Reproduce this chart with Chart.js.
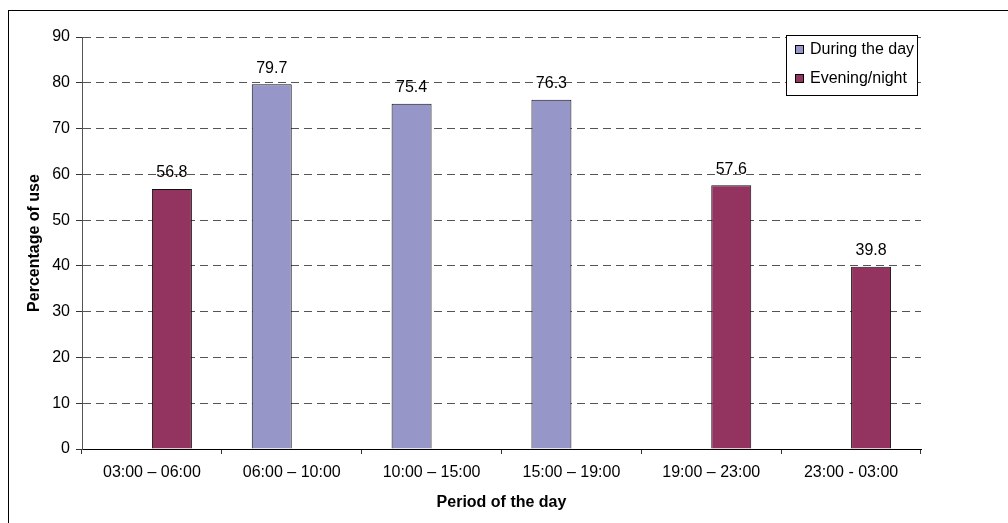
<!DOCTYPE html>
<html>
<head>
<meta charset="utf-8">
<script src="https://cdn.jsdelivr.net/npm/chart.js@4"></script>
<style>
html, body { margin: 0; padding: 0; background: #fff; overflow: hidden; }
#wrap { position: relative; width: 1008px; height: 523px; }
#frame { position: absolute; left: 8px; top: 10px; width: 1100px; height: 600px; border: 1px solid #000; }
canvas { position: absolute; left: 0; top: 0; }
</style>
</head>
<body>
<div id="wrap">
  <div id="frame"></div>
  <canvas id="chart" width="1008" height="523"></canvas>
</div>
<script>
// Chart data
const periods = ['03:00 \u2013 06:00', '06:00 \u2013 10:00', '10:00 \u2013 15:00', '15:00 \u2013 19:00', '19:00 \u2013 23:00', '23:00 - 03:00'];
const duringDay = [null, 79.7, 75.4, 76.3, null, null];
const eveningNight = [56.8, null, null, null, 57.6, 39.8];
const seriesNames = ['During the day', 'Evening/night'];
const yMin = 0;
const yMax = 90;
const yStep = 10;

const FONT = "'Liberation Sans', Arial, sans-serif";

// Value labels above the bars
const valueLabels = {
    id: 'valueLabels',
    afterDatasetsDraw(chart) {
        const ctx = chart.ctx;
        ctx.save();
        ctx.font = '16px ' + FONT;
        ctx.fillStyle = '#000';
        ctx.textAlign = 'center';
        ctx.textBaseline = 'middle';
        chart.data.datasets.forEach((ds, i) => {
            const meta = chart.getDatasetMeta(i);
            meta.data.forEach((bar, j) => {
                const v = ds.data[j];
                if (v === null || v === undefined) return;
                ctx.fillText(v.toFixed(1), bar.x, bar.y - 16);
            });
        });
        ctx.restore();
    }
};

// Boxed legend inside the plot, top right
const boxLegend = {
    id: 'boxLegend',
    afterDraw(chart) {
        const ctx = chart.ctx;
        const x = 786.5, y = 35.5, w = 131, h = 60;
        ctx.save();
        ctx.fillStyle = '#fff';
        ctx.fillRect(x, y, w, h);
        ctx.strokeStyle = '#000';
        ctx.lineWidth = 1;
        ctx.strokeRect(x, y, w, h);
        ctx.font = '16px ' + FONT;
        ctx.textBaseline = 'middle';
        ctx.textAlign = 'left';
        chart.data.datasets.forEach((ds, i) => {
            const cy = 50 + i * 29;
            ctx.fillStyle = ds.backgroundColor;
            ctx.fillRect(795.5, cy - 4.5, 8, 8);
            ctx.strokeStyle = '#000';
            ctx.strokeRect(795.5, cy - 4.5, 8, 8);
            ctx.fillStyle = '#000';
            ctx.fillText(ds.label, 810, cy);
        });
        ctx.restore();
    }
};

const ctx = document.getElementById('chart').getContext('2d');
new Chart(ctx, {
    type: 'bar',
    data: {
        labels: periods,
        datasets: [{
            label: seriesNames[0],
            data: duringDay,
            backgroundColor: '#9696c8',
            borderColor: '#111',
            borderWidth: 1
        }, {
            label: seriesNames[1],
            data: eveningNight,
            backgroundColor: '#933360',
            borderColor: '#111',
            borderWidth: 1
        }]
    },
    options: {
        responsive: false,
        animation: false,
        layout: { padding: { left: 0, top: 37, right: 87, bottom: 0 } },
        datasets: {
            bar: { categoryPercentage: 0.572, barPercentage: 1.0 }
        },
        plugins: {
            legend: { display: false },
            tooltip: { enabled: false }
        },
        scales: {
            x: {
                grid: {
                    offset: true,
                    drawOnChartArea: false,
                    drawTicks: true,
                    tickLength: 5,
                    tickColor: '#333'
                },
                border: { color: '#000', width: 1 },
                ticks: {
                    color: '#000',
                    font: { family: FONT, size: 16 },
                    padding: 9,
                    maxRotation: 0
                },
                title: {
                    display: true,
                    text: 'Period of the day',
                    color: '#000',
                    font: { family: FONT, size: 16, weight: 'bold' },
                    padding: { top: 0, bottom: 11 }
                },
                afterFit(scale) { scale.height = 74; }
            },
            y: {
                min: yMin,
                max: yMax,
                grid: {
                    color: c => (c.tick && c.tick.value === 0) ? 'rgba(0,0,0,0)' : '#555',
                    drawTicks: true,
                    tickLength: 6,
                    tickColor: '#333',
                    tickBorderDash: []
                },
                border: { color: '#555', width: 1, dash: [8, 5] },
                ticks: {
                    stepSize: yStep,
                    color: '#000',
                    font: { family: FONT, size: 16 },
                    padding: 6
                },
                title: {
                    display: true,
                    text: 'Percentage of use',
                    color: '#000',
                    font: { family: FONT, size: 16, weight: 'bold' },
                    padding: { top: 25, bottom: 0 }
                },
                afterFit(scale) { scale.width = 82; }
            }
        }
    },
    plugins: [valueLabels, boxLegend]
});
</script>
</body>
</html>
